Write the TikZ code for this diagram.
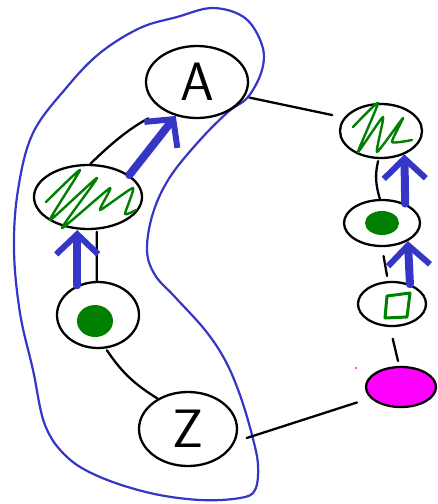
\documentclass[tikz,border=0pt]{standalone}
\usepackage{tikz}
\usetikzlibrary{arrows.meta,shapes.geometric,calc}
\definecolor{ink}{HTML}{000000}
\definecolor{pen}{HTML}{3535C6}
\definecolor{grn}{HTML}{008000}
\definecolor{mag}{HTML}{FF00FF}
\tikzset{
  bub/.style={draw=ink,line width=2.3pt,ellipse,inner sep=0pt,font=\sffamily\fontsize{54}{54}\selectfont},
  ln/.style={line width=2.3pt,ink,line cap=round},
  ba/.style={-{Straight Barb[length=20pt,width=42pt,line width=6pt]},line width=8pt,pen,line cap=round},
  hull/.style={pen,line width=2.2pt},
  scrib/.style={grn,line width=2.4pt,line cap=round,line join=round},
}

\begin{document}
\begin{tikzpicture}[x=1pt,y=-1pt]
\useasboundingbox (0,0) rectangle (437,504);
% blue hull round the left group
\draw[hull] plot[smooth cycle,tension=0.6] coordinates {(213,8) (245,18) (262,45) (262,70) (248,97) (228,112) (200,140) (170,177) (153,213) (147,250) (155,275) (175,297) (205,330) (225,360) (240,395) (252,435) (258,465) (255,490) (240,498) (200,500) (150,493) (100,477) (67,457) (45,425) (33,370) (20,313) (14,250) (18,190) (33,133) (67,87) (100,53) (140,28) (177,17)};
% left group
\node[bub,minimum width=102pt,minimum height=72pt] (nA) at (197,82) {A};
\node[bub,minimum width=108pt,minimum height=64pt] (nZig) at (88,197) {};
\node[bub,minimum width=82pt,minimum height=66pt] (nDot) at (98,315) {};
\node[bub,minimum width=98pt,minimum height=74pt] (nZ) at (188,429) {Z};
% right chain
\node[bub,minimum width=82pt,minimum height=54pt] (nZigR) at (381,131) {};
\node[bub,minimum width=76pt,minimum height=46pt] (nDotR) at (382,223) {};
\node[bub,minimum width=68pt,minimum height=44pt] (nSq) at (392,304) {};
\node[bub,fill=mag,minimum width=70pt,minimum height=40pt] (nPink) at (401,387) {};
% fillings
\draw[scrib] plot[smooth,tension=0.3] coordinates {(46,202) (80,170) (50,220) (97,178) (62,228) (110,188) (100,210) (133,188) (125,214) (136,210)};
\fill[grn] ([shift={(-3,6)}]nDot.center) ellipse [x radius=18,y radius=16];
\draw[scrib] plot[smooth,tension=0.3] coordinates {(353,127) (378,103) (358,152) (383,117) (377,152) (403,118) (392,142) (412,140)};
\fill[grn] (nDotR.center) ellipse [x radius=17,y radius=12];
\draw[scrib,line width=3pt] (387,296) -- (410,293) -- (407,317) -- (385,318) -- cycle;
\fill[mag] (356,368) circle (1.2);
% black links
\draw[ln,shorten <=5pt,shorten >=12pt] (nA.-17) -- (nZigR.160);
\draw[ln,shorten <=17pt] (nA.220) to[bend right=8] (nZig.86);
\draw[ln,shorten <=2pt] (nZig.-75) -- (nDot.92);
\draw[ln,shorten <=2pt] (nDot.-77) to[bend right=12] (nZ.135);
\draw[ln,shorten <=12pt,shorten >=14pt] (nZ.-15) -- (nPink.200);
\draw[ln,shorten <=2pt] (nZigR.-95) to[bend right=15] (nDotR.95);
\draw[ln,shorten <=9pt,shorten >=5pt] (nDotR.-90) -- (nSq.100);
\draw[ln,shorten <=12pt,shorten >=5pt] (nSq.-95) -- (nPink.95);
% blue arrows
\draw[ba] (nZig.28) -- (nA.238);
\draw[ba] (nDot.125) -- (nDot.125 |- nZig.south);
\draw[ba] (nDotR.40) -- (nZigR.-45);
\draw[ba] (nSq.48) -- (nDotR.-35);
\end{tikzpicture}
\end{document}
